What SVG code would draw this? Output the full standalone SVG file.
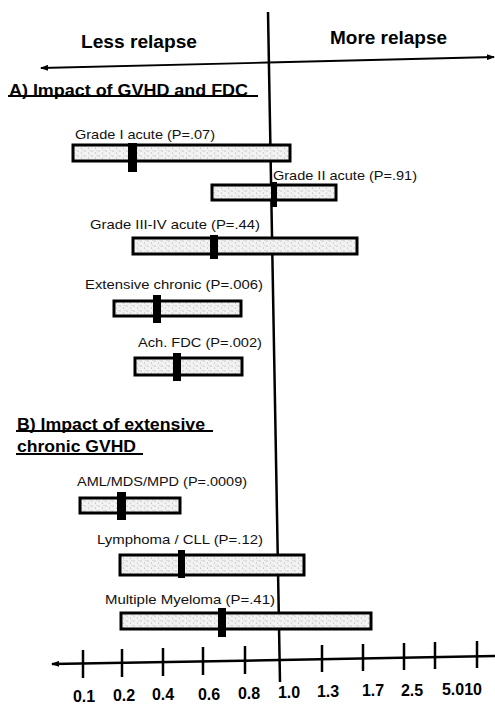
<svg xmlns="http://www.w3.org/2000/svg" width="495" height="706" viewBox="0 0 495 706">
<defs>
<pattern id="stip" width="7" height="5" patternUnits="userSpaceOnUse">
<rect width="7" height="5" fill="#f2f2f2"/>
<circle cx="1" cy="1" r="0.6" fill="#999"/>
<circle cx="4.5" cy="3" r="0.6" fill="#a8a8a8"/>
<circle cx="6" cy="0.5" r="0.5" fill="#bbb"/>
</pattern>
<marker id="ah" markerWidth="8" markerHeight="6" refX="7" refY="3" orient="auto" markerUnits="userSpaceOnUse">
<path d="M0,0 L8,3 L0,6 Z" fill="#000"/>
</marker>
</defs>
<style>
.bar{fill:url(#stip);stroke:#000;stroke-width:3}
.mk{fill:#000}
.lbl{font-family:"Liberation Sans",Arial,sans-serif;font-size:13.5px;fill:#111}
.hd{font-family:"Liberation Sans",Arial,sans-serif;font-size:17.5px;font-weight:bold;fill:#000}
.sec{font-family:"Liberation Sans",Arial,sans-serif;font-size:16px;font-weight:bold;fill:#000}
.ax{font-family:"Liberation Sans",Arial,sans-serif;font-size:16px;font-weight:bold;fill:#000;text-anchor:middle}
.ln{stroke:#000;fill:none}
</style>
<rect width="495" height="706" fill="#fff"/>
<g id="connectors">
<line class="ln" x1="268" y1="12" x2="280" y2="682" stroke-width="2.5"/>
<line class="ln" x1="268" y1="62.5" x2="41" y2="68" stroke-width="1.8" marker-end="url(#ah)"/>
<line class="ln" x1="268" y1="62.5" x2="494" y2="57" stroke-width="1.8" marker-end="url(#ah)"/>
<line class="ln" x1="280" y1="660" x2="52" y2="664" stroke-width="2.5" marker-end="url(#ah)"/>
<line class="ln" x1="280" y1="660" x2="495" y2="656" stroke-width="2.5"/>
<g stroke="#000" stroke-width="2.5">
<line x1="83" y1="650" x2="83" y2="678"/>
<line x1="122" y1="649" x2="122" y2="677"/>
<line x1="163" y1="648" x2="163" y2="676"/>
<line x1="203" y1="647" x2="203" y2="675"/>
<line x1="245" y1="646" x2="245" y2="674"/>
<line x1="322" y1="645" x2="322" y2="672"/>
<line x1="363" y1="644" x2="363" y2="671"/>
<line x1="404" y1="643" x2="404" y2="670"/>
<line x1="435" y1="642" x2="435" y2="669"/>
<line x1="477" y1="641" x2="477" y2="668"/>
</g>
</g>
<g id="header">
<text class="hd" x="81" y="48" textLength="116" lengthAdjust="spacingAndGlyphs">Less relapse</text>
<text class="hd" x="330" y="44" textLength="117" lengthAdjust="spacingAndGlyphs">More relapse</text>
</g>
<g id="sectionA">
<text class="sec" x="9" y="96" textLength="239" lengthAdjust="spacingAndGlyphs">A) Impact of GVHD and FDC</text>
<line x1="8" y1="96" x2="258" y2="96" stroke="#000" stroke-width="2"/>
</g>
<g id="grade1">
<text class="lbl" x="75" y="139" textLength="140" lengthAdjust="spacingAndGlyphs">Grade I acute (P=.07)</text>
<rect class="bar" x="73" y="145" width="217" height="16"/>
<rect class="mk" x="128" y="143" width="9" height="29"/>
</g>
<g id="grade2">
<text class="lbl" x="273" y="180" textLength="144" lengthAdjust="spacingAndGlyphs">Grade II acute (P=.91)</text>
<rect class="bar" x="212" y="185" width="124" height="15"/>
<rect class="mk" x="271" y="182" width="6" height="25"/>
</g>
<g id="grade34">
<text class="lbl" x="90" y="229" textLength="170" lengthAdjust="spacingAndGlyphs">Grade III-IV acute (P=.44)</text>
<rect class="bar" x="133" y="238" width="224" height="16"/>
<rect class="mk" x="210" y="235" width="8" height="24"/>
</g>
<g id="extchronic">
<text class="lbl" x="85" y="289" textLength="178" lengthAdjust="spacingAndGlyphs">Extensive  chronic  (P=.006)</text>
<rect class="bar" x="114" y="301" width="127" height="15"/>
<rect class="mk" x="153" y="295" width="8" height="28"/>
</g>
<g id="achfdc">
<text class="lbl" x="138" y="347" textLength="124" lengthAdjust="spacingAndGlyphs">Ach. FDC (P=.002)</text>
<rect class="bar" x="135" y="358" width="107" height="17"/>
<rect class="mk" x="173" y="353" width="8" height="28"/>
</g>
<g id="sectionB">
<text class="sec" x="17" y="430" textLength="188" lengthAdjust="spacingAndGlyphs">B) Impact of extensive</text>
<line x1="16" y1="431" x2="213" y2="431" stroke="#000" stroke-width="2"/>
<text class="sec" x="17" y="452" textLength="119" lengthAdjust="spacingAndGlyphs">chronic GVHD</text>
<line x1="16" y1="454" x2="143" y2="454" stroke="#000" stroke-width="2"/>
</g>
<g id="aml">
<text class="lbl" x="77" y="486" textLength="170" lengthAdjust="spacingAndGlyphs">AML/MDS/MPD (P=.0009)</text>
<rect class="bar" x="80" y="498" width="100" height="15"/>
<rect class="mk" x="117" y="492" width="9" height="28"/>
</g>
<g id="lymphoma">
<text class="lbl" x="97" y="544" textLength="166" lengthAdjust="spacingAndGlyphs">Lymphoma  / CLL (P=.12)</text>
<rect class="bar" x="120" y="555" width="184" height="20"/>
<rect class="mk" x="178" y="550" width="7" height="28"/>
</g>
<g id="myeloma">
<text class="lbl" x="105" y="604" textLength="170" lengthAdjust="spacingAndGlyphs">Multiple  Myeloma  (P=.41)</text>
<rect class="bar" x="121" y="613" width="250" height="16"/>
<rect class="mk" x="218" y="608" width="8" height="29"/>
</g>
<g id="ticklabels">
<text class="ax" x="84" y="702">0.1</text>
<text class="ax" x="124" y="701">0.2</text>
<text class="ax" x="163" y="700">0.4</text>
<text class="ax" x="209" y="699.5">0.6</text>
<text class="ax" x="249" y="699">0.8</text>
<text class="ax" x="289" y="698">1.0</text>
<text class="ax" x="328" y="697">1.3</text>
<text class="ax" x="373" y="696">1.7</text>
<text class="ax" x="412" y="695.5">2.5</text>
<text class="ax" x="462" y="695">5.010</text>
</g>
</svg>
